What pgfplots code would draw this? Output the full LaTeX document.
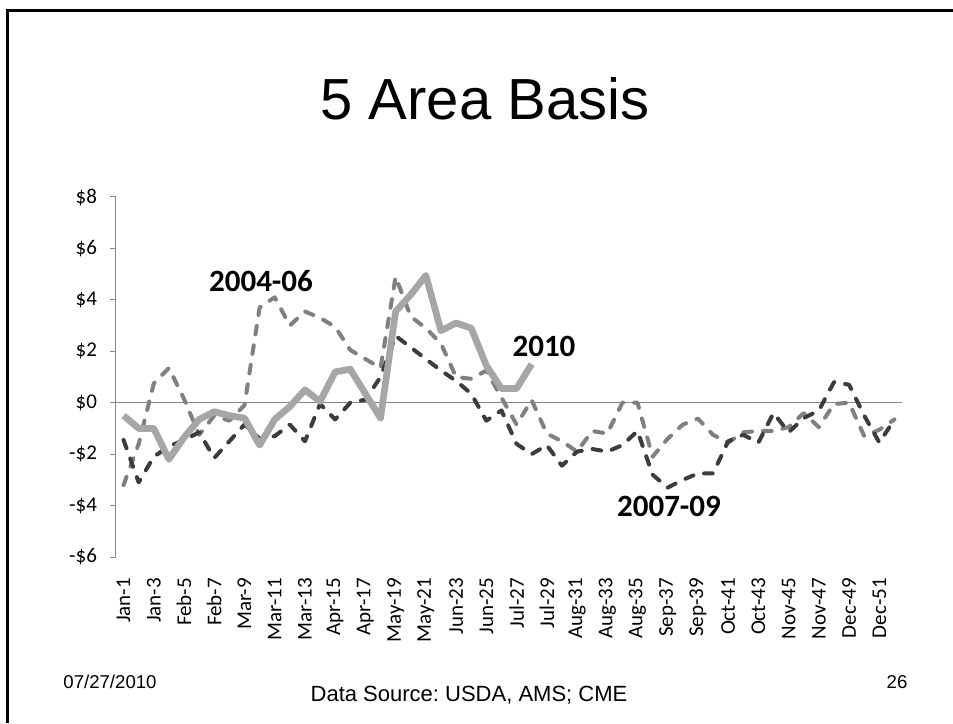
\documentclass[border=0pt]{standalone}
\usepackage{pgfplots}
\pgfplotsset{compat=1.18}
\usepackage{fontspec}
\setmainfont{Carlito}
\newfontfamily\arial{Liberation Sans}
\frenchspacing
\definecolor{cAx}{HTML}{868686}
\definecolor{cA}{HTML}{808080}
\definecolor{cB}{HTML}{3C3C3C}
\definecolor{cC}{HTML}{A6A6A6}
\begin{document}
\begin{tikzpicture}
\begin{scope}[x=0.5pt,y=0.5pt]
\useasboundingbox (0,0) rectangle (953,723);
\fill[white] (0,0) rectangle (953,723);
\draw[line width=1.5pt] (7.5,0) -- (7.5,712.3) -- (953,712.3);
\node[font=\arial\fontsize{29}{34}\selectfont, anchor=base, inner sep=0pt] at (485,603) {5 Area Basis};
\end{scope}
\begin{axis}[
  at={(58pt,83pt)}, anchor=south west, scale only axis,
  width=393pt, height=180pt,
  xmin=0.5, xmax=52.5, ymin=-6, ymax=8,
  axis lines*=left,
  x axis line style={draw=none},
  y axis line style={draw=cAx, line width=0.5pt},
  xtick style={draw=none},
  ytick style={draw=cAx, line width=0.5pt},
  tick align=outside, major tick length=3pt,
  ytick={-6,-4,-2,0,2,4,6,8},
  yticklabels={-\$6,-\$4,-\$2,\$0,\$2,\$4,\$6,\$8},
  xtick={1,3,...,51},
  xticklabels={Jan-1,Jan-3,Feb-5,Feb-7,Mar-9,Mar-11,Mar-13,Apr-15,Apr-17,May-19,May-21,Jun-23,Jun-25,Jul-27,Jul-29,Aug-31,Aug-33,Aug-35,Sep-37,Sep-39,Oct-41,Oct-43,Nov-45,Nov-47,Dec-49,Dec-51},
  xticklabel style={rotate=90, anchor=east, font=\fontsize{10.5}{12}\selectfont},
  yticklabel style={font=\fontsize{10.5}{12}\selectfont},
  xticklabel shift=4pt,
  yticklabel shift=3pt,
]
\draw[cAx, line width=0.5pt] (axis cs:0.5,0) -- (axis cs:52.5,0);
% 2004-06
\addplot[cA, line width=2pt, dash pattern=on 4.35pt off 5.5pt, line cap=round, line join=round] table {
x y
1 -3.2
2 -1.6
3 0.75
4 1.35
5 0.15
6 -1.25
7 -0.5
8 -0.7
9 -0.1
10 3.7
11 4.1
12 3.0
13 3.55
14 3.3
15 2.95
16 2.05
17 1.7
18 1.35
19 4.9
20 3.35
21 2.9
22 2.3
23 1.0
24 0.93
25 1.25
26 0.2
27 -0.85
28 0.1
29 -1.2
30 -1.5
31 -1.9
32 -1.1
33 -1.2
34 0.0
35 0.0
36 -2.1
37 -1.4
38 -0.85
39 -0.62
40 -1.25
41 -1.55
42 -1.15
43 -1.1
44 -1.1
45 -0.95
46 -0.4
47 -0.95
48 -0.05
49 0.0
50 -1.3
51 -1.05
52 -0.65
};
% 2007-09
\addplot[cB, line width=2pt, dash pattern=on 4.35pt off 5.5pt, line cap=round, line join=round] table {
x y
1 -1.45
2 -3.1
3 -2.1
4 -1.7
5 -1.45
6 -1.15
7 -2.15
8 -1.5
9 -0.85
10 -1.4
11 -1.3
12 -0.85
13 -1.5
14 -0.05
15 -0.65
16 0.0
17 0.12
18 1.0
19 2.6
20 2.15
21 1.7
22 1.25
23 0.85
24 0.35
25 -0.7
26 -0.3
27 -1.6
28 -2.0
29 -1.65
30 -2.45
31 -1.9
32 -1.8
33 -1.9
34 -1.65
35 -1.1
36 -2.8
37 -3.3
38 -3.0
39 -2.75
40 -2.75
41 -1.5
42 -1.25
43 -1.55
44 -0.4
45 -1.15
46 -0.6
47 -0.3
48 0.8
49 0.7
50 -0.5
51 -1.55
52 -0.65
};
% 2010
\addplot[cC, line width=3.35pt, line join=round] table {
x y
1 -0.5
2 -1.0
3 -1.0
4 -2.2
5 -1.35
6 -0.65
7 -0.35
8 -0.5
9 -0.6
10 -1.65
11 -0.65
12 -0.15
13 0.5
14 0.05
15 1.2
16 1.3
17 0.35
18 -0.6
19 3.55
20 4.2
21 4.95
22 2.8
23 3.1
24 2.9
25 1.45
26 0.55
27 0.55
28 1.5
};
\end{axis}
\begin{scope}[x=0.5pt,y=0.5pt]
\node[font=\bfseries\fontsize{15.5}{18}\selectfont, anchor=base, inner sep=0pt] at (261,431.3) {2004-06};
\node[font=\bfseries\fontsize{15.5}{18}\selectfont, anchor=base, inner sep=0pt] at (544,366.3) {2010};
\node[font=\bfseries\fontsize{15.5}{18}\selectfont, anchor=base, inner sep=0pt] at (669,206.3) {2007-09};
\node[font=\arial\fontsize{9.3}{11}\selectfont, anchor=base, inner sep=0pt] at (110,35) {07/27/2010};
\node[font=\arial\fontsize{9.3}{11}\selectfont, anchor=base, inner sep=0pt] at (897,35) {26};
\node[font=\arial\fontsize{11}{13}\selectfont, anchor=base, inner sep=0pt] at (469,21.3) {Data Source: USDA, AMS; CME};
\end{scope}
\end{tikzpicture}
\end{document}
